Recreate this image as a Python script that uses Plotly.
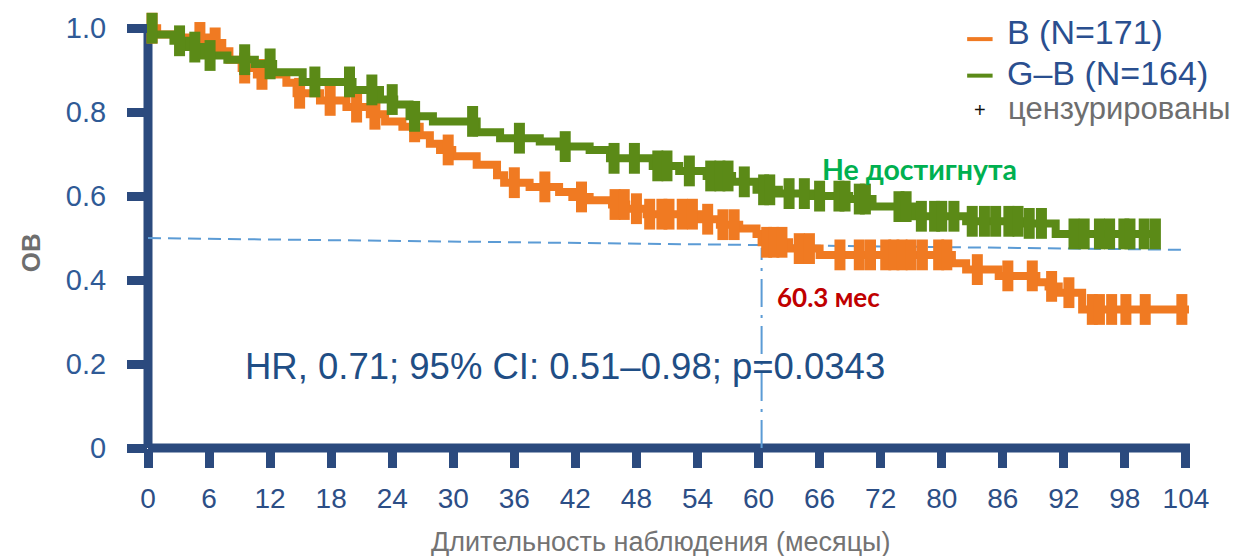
import plotly.graph_objects as go

# ---- Kaplan-Meier data: overall survival (months, survival after each event) ----
b_time = [0, 0.9, 2.7, 6.1, 7.3, 8.0, 9.2, 10.7, 13.6, 14.6, 16.9, 19.5, 21.8, 23.3,
          25.0, 26.7, 27.7, 28.7, 29.9, 32.3, 34.3, 35.0, 37.5, 40.4, 41.7, 43.4,
          45.6, 47.0, 49.0, 54.2, 56.2, 58.1, 59.8, 60.3, 63.0, 66.0, 79.0, 80.4,
          83.6, 87.3, 88.5, 89.5, 91.8]
b_surv = [1.0, 0.985, 0.978, 0.965, 0.945, 0.925, 0.905, 0.89, 0.87, 0.845, 0.828,
          0.812, 0.795, 0.778, 0.765, 0.745, 0.725, 0.71, 0.695, 0.675, 0.65, 0.632,
          0.622, 0.61, 0.598, 0.59, 0.58, 0.57, 0.557, 0.545, 0.532, 0.523, 0.51,
          0.49, 0.475, 0.46, 0.44, 0.425, 0.41, 0.395, 0.385, 0.37, 0.33]
b_end = 102.3
b_cens = [0.4, 5.1, 6.6, 9.5, 11.2, 14.9, 17.9, 20.5, 22.3, 26.2, 29.5, 36.0, 39.0,
          42.6, 45.9, 46.8, 48.0, 49.3, 50.5, 51.2, 52.5, 53.5, 55.0, 56.5, 57.6,
          60.8, 61.5, 62.3, 64.0, 65.0, 68.0, 69.9, 71.0, 72.5, 73.3, 74.1, 75.0,
          76.1, 77.7, 78.5, 81.5, 84.5, 86.9, 88.8, 90.5, 92.8, 93.5, 94.7, 96.1,
          98.0, 101.6]

gb_time = [0, 0.5, 2.5, 3.8, 5.4, 7.8, 10.5, 12.3, 15.2, 20.1, 22.8, 24.2, 25.7,
           28.0, 32.3, 34.6, 38.5, 40.4, 43.4, 45.4, 49.6, 52.2, 54.9, 57.4, 59.8,
           62.0, 65.3, 68.9, 71.2, 75.1, 80.4, 86.3, 89.2]
gb_surv = [1.0, 0.985, 0.97, 0.955, 0.935, 0.925, 0.915, 0.895, 0.872, 0.853, 0.83,
           0.818, 0.79, 0.778, 0.752, 0.738, 0.73, 0.718, 0.71, 0.69, 0.672, 0.66,
           0.648, 0.634, 0.615, 0.606, 0.6, 0.593, 0.575, 0.552, 0.54, 0.535, 0.51]
gb_end = 99.3
gb_cens = [0.4, 3.1, 4.6, 6.1, 9.5, 12.0, 16.4, 19.8, 22.0, 24.0, 26.2, 31.9, 36.5,
           41.0, 45.8, 47.8, 50.1, 51.0, 53.2, 55.3, 56.2, 57.0, 58.6, 60.5, 61.1,
           63.0, 64.5, 66.0, 67.9, 68.5, 69.9, 70.5, 73.8, 74.5, 76.0, 77.3, 78.0,
           79.2, 81.0, 82.2, 83.3, 84.6, 85.5, 86.6, 87.8, 91.0, 92.0, 93.5, 94.5,
           95.9, 96.5, 97.9, 99.0]

median_b = 60.3

x_tick_pos = [0, 6, 12, 18, 24, 30, 36, 42, 48, 54, 60, 66, 72, 78, 84, 90, 96, 102]
x_tick_text = ["0", "6", "12", "18", "24", "30", "36", "42", "48", "54", "60", "66",
               "72", "80", "86", "92", "98", "104"]
y_tick_pos = [0, 0.2, 0.4, 0.6, 0.8, 1.0]
y_tick_text = ["0", "0.2", "0.4", "0.6", "0.8", "1.0"]

# ---- styling ----
ORANGE = "#F07A22"
GREEN = "#5B8A17"
NAVY = "#2B4A7E"
TICK_BLUE = "#2F5A96"
REF_BLUE = "#5B9BD5"
FONT = "Liberation Sans, Arial, sans-serif"


def km_path(times, surv, end):
    return list(times) + [end], list(surv) + [surv[-1]]


def surv_at(times, surv, t):
    val = surv[0]
    for tt, s in zip(times, surv):
        if tt <= t:
            val = s
    return val


fig = go.Figure()

for times, surv, end, cens, color in [
    (b_time, b_surv, b_end, b_cens, ORANGE),
    (gb_time, gb_surv, gb_end, gb_cens, GREEN),
]:
    px_, py_ = km_path(times, surv, end)
    fig.add_trace(go.Scatter(
        x=px_, y=py_, mode="lines", line=dict(color=color, width=8, shape="hv"),
        hoverinfo="skip"))
    fig.add_trace(go.Scatter(
        x=cens, y=[surv_at(times, surv, c) for c in cens], mode="markers",
        marker=dict(symbol="line-ns", size=22, color=color,
                    line=dict(color=color, width=11)),
        cliponaxis=False, hoverinfo="skip"))

# median reference lines
fig.add_shape(type="line", xref="x", yref="y", x0=0, y0=0.5, x1=102, y1=0.472,
              line=dict(color=REF_BLUE, width=2, dash="13px,7px"), layer="below")
fig.add_shape(type="line", xref="x", yref="y", x0=median_b, y0=0, x1=median_b, y1=0.477,
              line=dict(color=REF_BLUE, width=2, dash="28px,8px,3px,8px"), layer="below")

# thick axis lines
fig.add_shape(type="line", xref="paper", yref="paper", x0=0, y0=0, x1=0, y1=1,
              line=dict(color=NAVY, width=9), layer="below")
fig.add_shape(type="line", xref="paper", yref="paper", x0=0, y0=0, x1=1, y1=0,
              line=dict(color=NAVY, width=9), layer="below")

# legend
for yv, ytxt, color, label in [(0.974, 0.991, ORANGE, "B (N=171)"),
                               (0.887, 0.894, GREEN, "G–B (N=164)")]:
    fig.add_shape(type="line", xref="x", yref="y", x0=80.5, x1=83.0, y0=yv, y1=yv,
                  line=dict(color=color, width=4))
    fig.add_annotation(x=84.2, y=ytxt, xref="x", yref="y", text=label,
                       showarrow=False, xanchor="left", yanchor="middle",
                       font=dict(family=FONT, size=34, color="#2A4F8F"))
fig.add_annotation(x=81.8, y=0.805, xref="x", yref="y", text="+", showarrow=False,
                   xanchor="center", yanchor="middle",
                   font=dict(family=FONT, size=20, color="#111111"))
fig.add_annotation(x=84.3, y=0.808, xref="x", yref="y", text="цензурированы",
                   showarrow=False, xanchor="left", yanchor="middle",
                   font=dict(family=FONT, size=31, color="#6E6E6E"))

# in-plot labels
fig.add_annotation(x=9.3, y=0.195, xref="x", yref="y",
                   text="HR, 0.71; 95% CI: 0.51–0.98; p=0.0343", showarrow=False,
                   xanchor="left", yanchor="middle",
                   font=dict(family=FONT, size=36.5, color="#1F4E85"))
fig.add_annotation(x=66.0, y=0.665, xref="x", yref="y", text="<b>Не достигнута</b>",
                   showarrow=False, xanchor="left", yanchor="middle",
                   font=dict(family="Lato, sans-serif", size=28.5, color="#00B050"))
fig.add_annotation(x=median_b + 1.3, y=0.36, xref="x", yref="y",
                   text="<b>%.1f мес</b>" % median_b, showarrow=False,
                   xanchor="left", yanchor="middle",
                   font=dict(family="Lato, sans-serif", size=26, color="#C00000"))

# axis titles
fig.add_annotation(x=-0.112, y=0.46, xref="paper", yref="paper", text="<b>OB</b>",
                   textangle=-90, showarrow=False, xanchor="center", yanchor="middle",
                   font=dict(family=FONT, size=26, color="#6E6E6E"))
fig.add_annotation(x=0.492, y=-0.221, xref="paper", yref="paper",
                   text="Длительность наблюдения (месяцы)", showarrow=False,
                   xanchor="center", yanchor="middle",
                   font=dict(family=FONT, size=27, color="#737373"))

fig.update_xaxes(range=[0, 102.4], tickvals=x_tick_pos, ticktext=x_tick_text,
                 ticks="outside", ticklen=19, tickwidth=9, tickcolor=NAVY,
                 showline=False, showgrid=False, zeroline=False,
                 tickfont=dict(family=FONT, size=28, color="#2C4E86"),
                 ticklabelstandoff=6)
fig.update_yaxes(range=[0, 1.01], tickvals=y_tick_pos, ticktext=y_tick_text,
                 ticks="outside", ticklen=20, tickwidth=9, tickcolor=NAVY,
                 showline=False, showgrid=False, zeroline=False,
                 tickfont=dict(family=FONT, size=29, color=TICK_BLUE),
                 ticklabelstandoff=15)

fig.update_layout(width=1239, height=556, margin=dict(l=148, r=49, t=18, b=108),
                  plot_bgcolor="white", paper_bgcolor="white", showlegend=False)

fig.write_html("out.html")
